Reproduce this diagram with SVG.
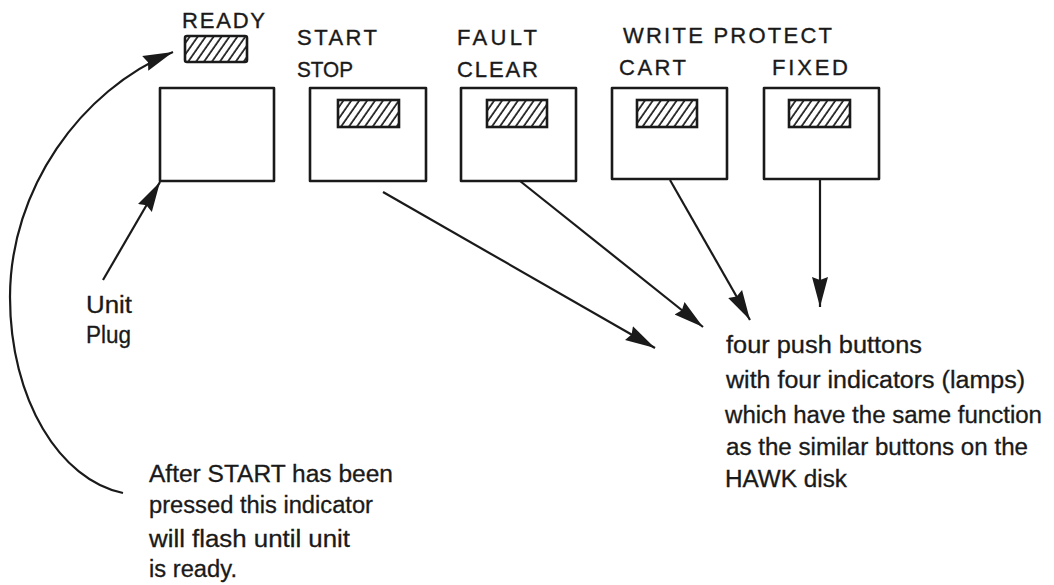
<svg xmlns="http://www.w3.org/2000/svg" width="1054" height="585" viewBox="0 0 1054 585">
<style>
.box{fill:none;stroke:#1a1a1a;stroke-width:2.6;stroke-linejoin:round}
.lamp{fill:url(#hatch);stroke:#1a1a1a;stroke-width:2.6}
.cap{font-family:"Liberation Sans",Arial,sans-serif;font-size:22px;fill:#1a1a1a;stroke:#1a1a1a;stroke-width:0.35}
.txt{font-family:"Liberation Sans",Arial,sans-serif;font-size:23px;fill:#1a1a1a;stroke:#1a1a1a;stroke-width:0.3}
.con{fill:none;stroke:#1a1a1a;stroke-width:2.2}
</style>
<defs>
<pattern id="hatch" patternUnits="userSpaceOnUse" width="6.5" height="10" patternTransform="rotate(35)">
<rect width="6.5" height="10" fill="#fff"/>
<line x1="1" y1="0" x2="1" y2="10" stroke="#1a1a1a" stroke-width="1.7"/>
</pattern>
<marker id="ah" markerUnits="userSpaceOnUse" markerWidth="32" markerHeight="18" refX="30" refY="9" orient="auto" viewBox="0 0 32 18">
<path d="M0,1 L30,9 L0,17 L3,9 Z" fill="#1a1a1a"/>
</marker>
</defs>
<rect width="1054" height="585" fill="#fff"/>

<g id="ready-indicator">
<text class="cap" x="182" y="28" font-size="19" textLength="83" lengthAdjust="spacing">READY</text>
<rect class="lamp" x="185" y="36" width="62" height="26" rx="2" stroke-width="3.2"/>
</g>

<g id="unit-plug-box">
<rect class="box" x="160" y="88" width="114" height="93"/>
</g>

<g id="start-stop-button">
<text class="cap" x="297" y="45" textLength="80" lengthAdjust="spacing">START</text>
<text class="cap" x="297" y="77" textLength="56" lengthAdjust="spacingAndGlyphs">STOP</text>
<rect class="box" x="310" y="88" width="116" height="93"/>
<rect class="lamp" x="338" y="100" width="61" height="27"/>
</g>

<g id="fault-clear-button">
<text class="cap" x="457" y="45" textLength="80" lengthAdjust="spacing">FAULT</text>
<text class="cap" x="457" y="77" textLength="81" lengthAdjust="spacing">CLEAR</text>
<rect class="box" x="461" y="88" width="115" height="93"/>
<rect class="lamp" x="487" y="100" width="60" height="27"/>
</g>

<g id="write-protect-label">
<text class="cap" x="623" y="43" textLength="209" lengthAdjust="spacing">WRITE PROTECT</text>
</g>

<g id="cart-button">
<text class="cap" x="619" y="75" textLength="67" lengthAdjust="spacing">CART</text>
<rect class="box" x="612" y="88" width="115" height="91"/>
<rect class="lamp" x="637" y="100" width="60" height="27"/>
</g>

<g id="fixed-button">
<text class="cap" x="772" y="75" textLength="76" lengthAdjust="spacing">FIXED</text>
<rect class="box" x="764" y="88" width="115" height="91"/>
<rect class="lamp" x="789" y="100" width="61" height="27"/>
</g>

<g id="unit-plug-label">
<text class="txt" x="86" y="313" textLength="46" lengthAdjust="spacingAndGlyphs">Unit</text>
<text class="txt" x="86" y="343" textLength="45" lengthAdjust="spacingAndGlyphs">Plug</text>
</g>

<g id="push-buttons-note">
<text class="txt" x="726" y="353" textLength="196" lengthAdjust="spacingAndGlyphs">four push buttons</text>
<text class="txt" x="726" y="388" textLength="299" lengthAdjust="spacingAndGlyphs">with four indicators (lamps)</text>
<text class="txt" x="725" y="423" textLength="317" lengthAdjust="spacingAndGlyphs">which have the same function</text>
<text class="txt" x="726" y="455" textLength="302" lengthAdjust="spacingAndGlyphs">as the similar buttons on the</text>
<text class="txt" x="725" y="487" textLength="122" lengthAdjust="spacingAndGlyphs">HAWK disk</text>
</g>

<g id="ready-note">
<text class="txt" x="149" y="482" textLength="244" lengthAdjust="spacingAndGlyphs">After START has been</text>
<text class="txt" x="149" y="513" textLength="224" lengthAdjust="spacingAndGlyphs">pressed this indicator</text>
<text class="txt" x="149" y="547" textLength="201" lengthAdjust="spacingAndGlyphs">will flash until unit</text>
<text class="txt" x="149" y="577" textLength="88" lengthAdjust="spacingAndGlyphs">is ready.</text>
</g>

<g id="connectors">
<path class="con" d="M123,493 C60,480 10,400 10,297 C10,190 80,90 173,52" marker-end="url(#ah)"/>
<line class="con" x1="103" y1="280" x2="160" y2="182" stroke-width="2.8" marker-end="url(#ah)"/>
<line class="con" x1="383" y1="192" x2="655" y2="348" marker-end="url(#ah)"/>
<line class="con" x1="520" y1="181" x2="703" y2="327" marker-end="url(#ah)"/>
<line class="con" x1="670" y1="180" x2="750" y2="320" marker-end="url(#ah)"/>
<line class="con" x1="820" y1="180" x2="820" y2="307" marker-end="url(#ah)"/>
</g>
</svg>
